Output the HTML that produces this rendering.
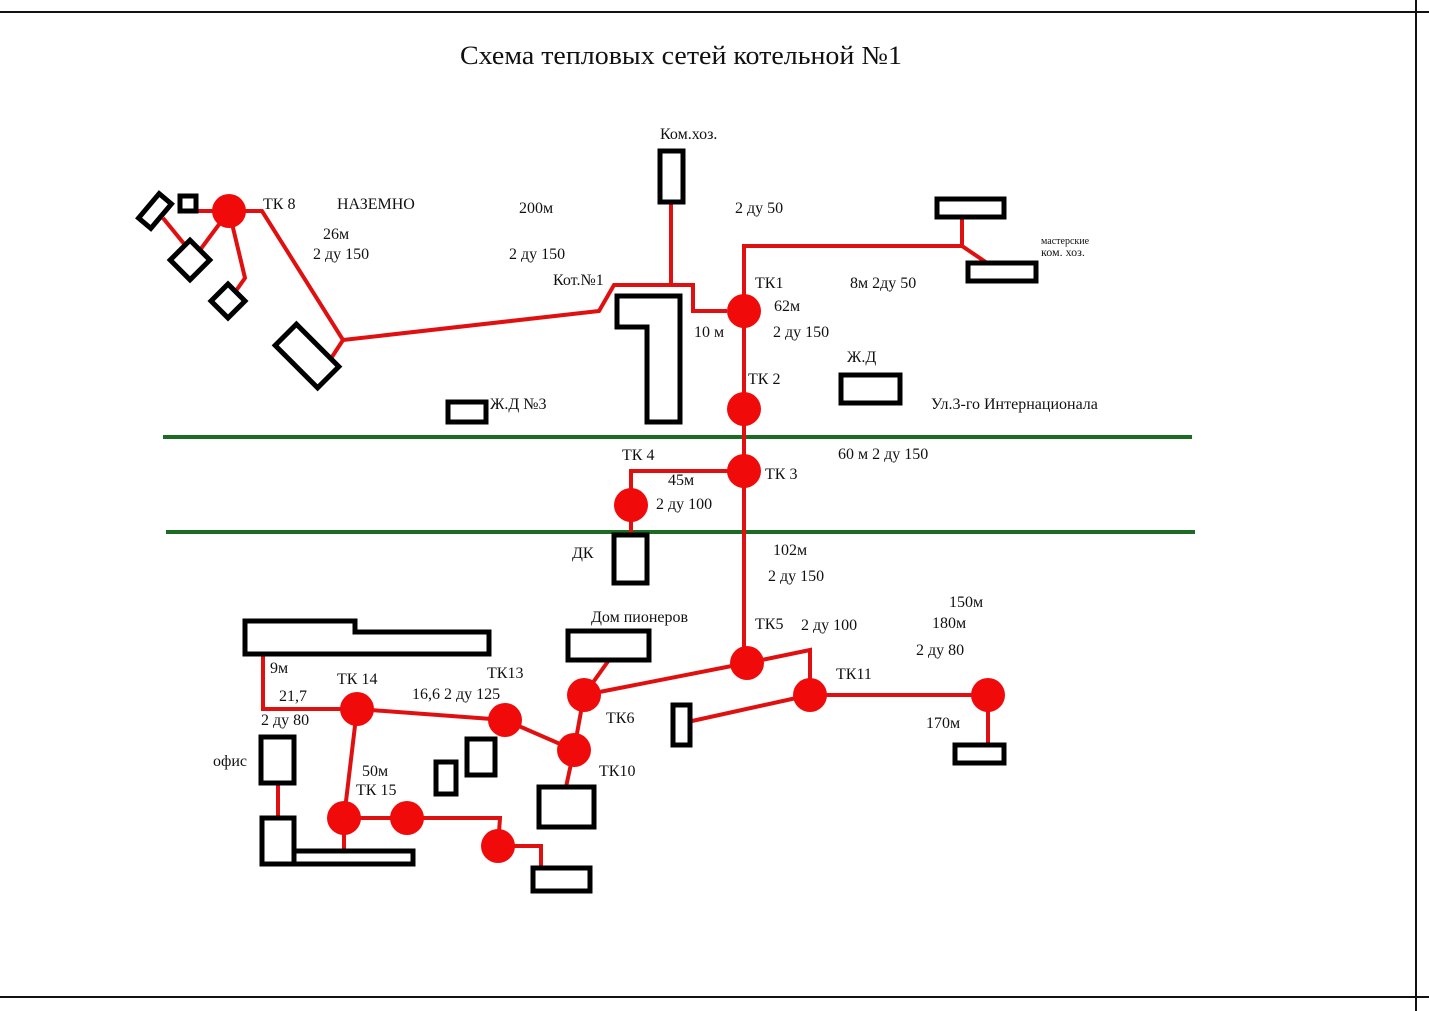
<!DOCTYPE html>
<html><head><meta charset="utf-8"><style>
html,body{margin:0;padding:0;background:#fff;}
svg{display:block;}
text{font-family:"Liberation Serif",serif;font-size:16px;fill:#111;}
</style></head><body>
<svg width="1429" height="1011" viewBox="0 0 1429 1011" xmlns="http://www.w3.org/2000/svg">
<rect width="1429" height="1011" fill="#fff"/>
<line x1="0" y1="12" x2="1429" y2="12" stroke="#111" stroke-width="2"/>
<line x1="0" y1="997" x2="1429" y2="997" stroke="#111" stroke-width="2"/>
<line x1="1416" y1="0" x2="1416" y2="1011" stroke="#111" stroke-width="2"/>
<text x="460" y="64" style="font-size:26px" textLength="442" lengthAdjust="spacingAndGlyphs">Схема тепловых сетей котельной №1</text>

<line x1="163" y1="437" x2="1192" y2="437" stroke="#1b6b22" stroke-width="4"/>
<line x1="166" y1="532" x2="1195" y2="532" stroke="#1b6b22" stroke-width="4"/>

<g stroke="#e01010" stroke-width="4" fill="none" stroke-linejoin="miter">
<polyline points="196,211 262,211 343,340 599,311 614,285 693,285 693,311 727,311"/>
<line x1="343" y1="340" x2="330" y2="360"/>
<line x1="671" y1="202" x2="671" y2="285"/>
<polyline points="744,311 744,246 962,246"/>
<polyline points="962,218 962,246 990,265"/>
<line x1="744" y1="311" x2="744" y2="663"/>
<polyline points="744,471 631,471 631,535"/>
<polyline points="747,663 810,650 810,695 988,695 988,745"/>
<line x1="747" y1="663" x2="584" y2="695"/>
<line x1="810" y1="695" x2="692" y2="721"/>
<line x1="609" y1="660" x2="584" y2="695"/>
<line x1="584" y1="695" x2="574" y2="750"/>
<polyline points="505,720 574,750 566,787"/>
<line x1="357" y1="709" x2="505" y2="720"/>
<polyline points="357,709 263,709 263,655"/>
<line x1="357" y1="709" x2="344" y2="818"/>
<polyline points="344,818 500,818 498,846 541,846 541,868"/>
<line x1="344" y1="818" x2="344" y2="851"/>
<line x1="278" y1="783" x2="278" y2="818"/>
<line x1="229" y1="211" x2="200" y2="250"/>
<polyline points="229,211 245,278 233,295"/>
<line x1="163" y1="218" x2="185" y2="245"/>
</g>

<g fill="#f00a0a">
<circle cx="229" cy="211" r="17"/>
<circle cx="744" cy="311" r="17"/>
<circle cx="744" cy="409" r="17"/>
<circle cx="744" cy="471" r="17"/>
<circle cx="631" cy="505" r="17"/>
<circle cx="747" cy="663" r="17"/>
<circle cx="584" cy="695" r="17"/>
<circle cx="574" cy="750" r="17"/>
<circle cx="505" cy="720" r="17"/>
<circle cx="357" cy="709" r="17"/>
<circle cx="344" cy="818" r="17"/>
<circle cx="407" cy="818" r="17"/>
<circle cx="498" cy="846" r="17"/>
<circle cx="810" cy="695" r="17"/>
<circle cx="988" cy="695" r="17"/>
</g>

<g stroke="#000" stroke-width="5" fill="#fff">
<rect x="180" y="196" width="16" height="15"/>
<rect x="139" y="203" width="32" height="16" transform="rotate(-50 155 211)"/>
<rect x="176" y="246" width="28" height="28" transform="rotate(45 190 260)"/>
<rect x="216" y="289" width="24" height="24" transform="rotate(45 228 301)"/>
<rect x="277" y="341" width="60" height="30" transform="rotate(45 307 356)"/>
<rect x="660" y="151" width="23" height="51"/>
<polygon points="617,296 680,296 680,422 647,422 647,327 617,327"/>
<rect x="937" y="199" width="67" height="18"/>
<rect x="968" y="263" width="68" height="18"/>
<rect x="841" y="375" width="59" height="28"/>
<rect x="448" y="402" width="38" height="20"/>
<rect x="614" y="535" width="33" height="48"/>
<rect x="568" y="631" width="81" height="29"/>
<polygon points="245,621 355,621 355,632 489,632 489,654 245,654"/>
<rect x="673" y="705" width="17" height="40"/>
<rect x="955" y="745" width="49" height="18"/>
<rect x="539" y="787" width="55" height="40"/>
<rect x="533" y="868" width="57" height="23"/>
<rect x="467" y="739" width="28" height="36"/>
<rect x="436" y="762" width="20" height="32"/>
<rect x="261" y="737" width="33" height="46"/>
<rect x="294" y="851" width="119" height="13"/>
<rect x="262" y="818" width="32" height="46"/>
</g>

<text x="263" y="209">ТК 8</text>
<text x="337" y="209">НАЗЕМНО</text>
<text x="323" y="239">26м</text>
<text x="313" y="259">2 ду 150</text>
<text x="519" y="213">200м</text>
<text x="509" y="259">2 ду 150</text>
<text x="553" y="285">Кот.№1</text>
<text x="660" y="139">Ком.хоз.</text>
<text x="735" y="213">2 ду 50</text>
<text x="755" y="288">ТК1</text>
<text x="774" y="311">62м</text>
<text x="694" y="337">10 м</text>
<text x="773" y="337">2 ду 150</text>
<text x="850" y="288">8м 2ду 50</text>
<text x="1041" y="244" style="font-size:10px">мастерские</text>
<text x="1041" y="256" style="font-size:12px">ком. хоз.</text>
<text x="847" y="362">Ж.Д</text>
<text x="748" y="384">ТК 2</text>
<text x="931" y="409">Ул.3-го Интернационала</text>
<text x="490" y="409">Ж.Д №3</text>
<text x="622" y="460">ТК 4</text>
<text x="838" y="459">60 м 2 ду 150</text>
<text x="668" y="485">45м</text>
<text x="765" y="479">ТК 3</text>
<text x="656" y="509">2 ду 100</text>
<text x="572" y="558">ДК</text>
<text x="773" y="555">102м</text>
<text x="768" y="581">2 ду 150</text>
<text x="949" y="607">150м</text>
<text x="591" y="622">Дом пионеров</text>
<text x="932" y="628">180м</text>
<text x="755" y="629">ТК5</text>
<text x="801" y="630">2 ду 100</text>
<text x="916" y="655">2 ду 80</text>
<text x="270" y="673">9м</text>
<text x="487" y="678">ТК13</text>
<text x="836" y="679">ТК11</text>
<text x="337" y="684">ТК 14</text>
<text x="279" y="701">21,7</text>
<text x="412" y="699">16,6 2 ду 125</text>
<text x="261" y="725">2 ду 80</text>
<text x="606" y="723">ТК6</text>
<text x="926" y="728">170м</text>
<text x="213" y="766">офис</text>
<text x="362" y="776">50м</text>
<text x="599" y="776">ТК10</text>
<text x="356" y="795">ТК 15</text>
</svg>
</body></html>
